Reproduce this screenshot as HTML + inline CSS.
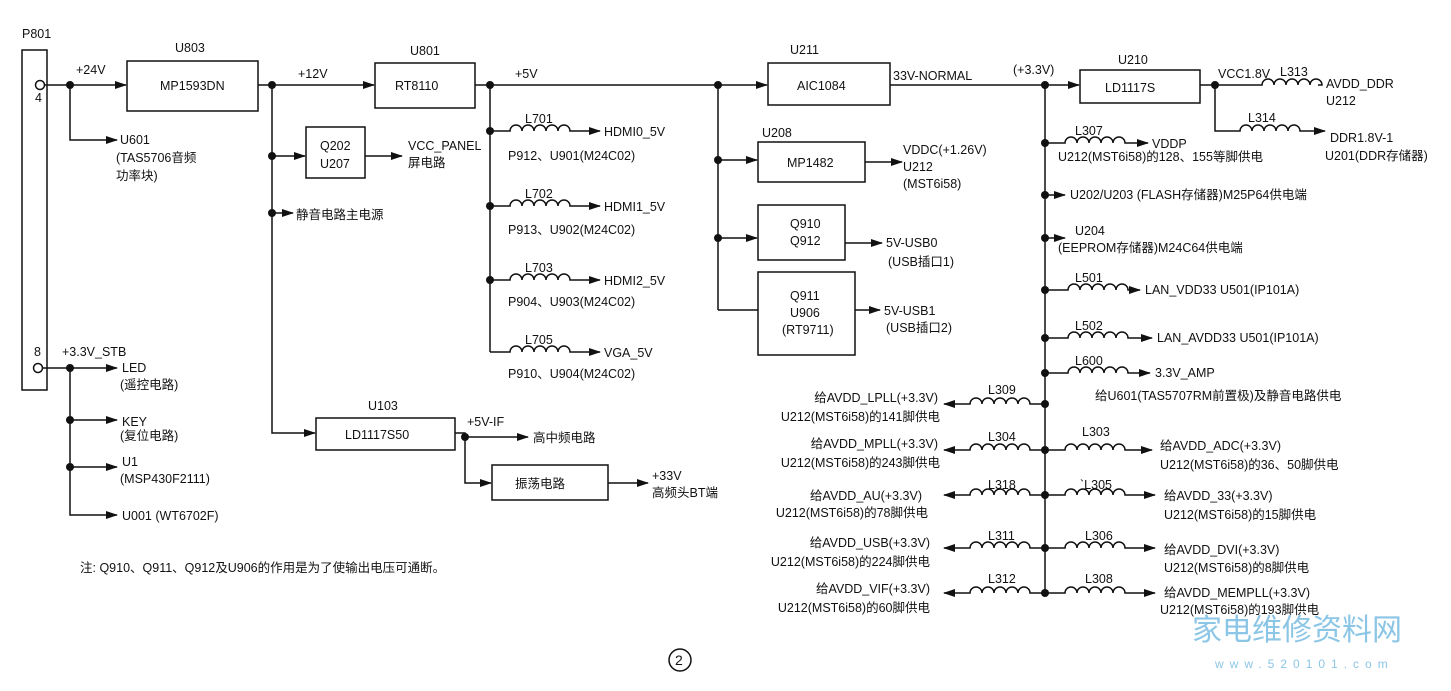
<!DOCTYPE html>
<html><head><meta charset="utf-8"><style>
html,body{margin:0;padding:0;background:#fff}
svg text{font-family:"Liberation Sans","Noto Sans CJK SC",sans-serif;font-size:12.5px;fill:#111}
</style></head><body>
<svg width="1451" height="686" viewBox="0 0 1451 686" xmlns="http://www.w3.org/2000/svg">
<defs>
<marker id="a" markerWidth="12" markerHeight="8" refX="11" refY="4" orient="auto" markerUnits="userSpaceOnUse"><path d="M0,0 L12,4 L0,8 z" fill="#111"/></marker>
</defs>
<g stroke="#111" stroke-width="1.5" fill="none">
<rect x="22" y="50" width="25" height="340"/>
<circle cx="40" cy="85" r="4.5"/><circle cx="38" cy="368" r="4.5"/>
<line x1="45" y1="85" x2="126" y2="85" marker-end="url(#a)"/>
<polyline points="70,85 70,140 117,140" marker-end="url(#a)"/>
<rect x="127" y="61" width="131" height="50"/>
<line x1="258" y1="85" x2="374" y2="85" marker-end="url(#a)"/>
<rect x="375" y="63" width="100" height="45"/>
<polyline points="272,85 272,433 315,433" marker-end="url(#a)"/>
<line x1="272" y1="156" x2="305" y2="156" marker-end="url(#a)"/>
<rect x="306" y="127" width="59" height="51"/>
<line x1="365" y1="156" x2="402" y2="156" marker-end="url(#a)"/>
<line x1="272" y1="213" x2="293" y2="213" marker-end="url(#a)"/>
<rect x="316" y="418" width="139" height="32"/>
<polyline points="455,433 465,433 465,437 528,437" marker-end="url(#a)"/>
<polyline points="465,437 465,483 491,483" marker-end="url(#a)"/>
<rect x="492" y="465" width="116" height="35"/>
<line x1="608" y1="483" x2="648" y2="483" marker-end="url(#a)"/>
<polyline points="43,368 70,368 70,515 117,515" marker-end="url(#a)"/>
<line x1="70" y1="368" x2="117" y2="368" marker-end="url(#a)"/>
<line x1="70" y1="420" x2="117" y2="420" marker-end="url(#a)"/>
<line x1="70" y1="467" x2="117" y2="467" marker-end="url(#a)"/>
<line x1="475" y1="85" x2="767" y2="85" marker-end="url(#a)"/>
<line x1="490" y1="85" x2="490" y2="352"/>
<path d="M490,131 H510 a6,6 0 0 1 12,0 a6,6 0 0 1 12,0 a6,6 0 0 1 12,0 a6,6 0 0 1 12,0 a6,6 0 0 1 12,0 H600" marker-end="url(#a)"/>
<path d="M490,206 H510 a6,6 0 0 1 12,0 a6,6 0 0 1 12,0 a6,6 0 0 1 12,0 a6,6 0 0 1 12,0 a6,6 0 0 1 12,0 H600" marker-end="url(#a)"/>
<path d="M490,280 H510 a6,6 0 0 1 12,0 a6,6 0 0 1 12,0 a6,6 0 0 1 12,0 a6,6 0 0 1 12,0 a6,6 0 0 1 12,0 H600" marker-end="url(#a)"/>
<path d="M490,352 H510 a6,6 0 0 1 12,0 a6,6 0 0 1 12,0 a6,6 0 0 1 12,0 a6,6 0 0 1 12,0 a6,6 0 0 1 12,0 H600" marker-end="url(#a)"/>
<rect x="768" y="63" width="122" height="42"/>
<line x1="718" y1="85" x2="718" y2="310"/>
<line x1="718" y1="160" x2="757" y2="160" marker-end="url(#a)"/>
<rect x="758" y="142" width="107" height="40"/>
<line x1="865" y1="162" x2="902" y2="162" marker-end="url(#a)"/>
<line x1="718" y1="238" x2="757" y2="238" marker-end="url(#a)"/>
<rect x="758" y="205" width="87" height="55"/>
<line x1="845" y1="243" x2="882" y2="243" marker-end="url(#a)"/>
<line x1="718" y1="310" x2="758" y2="310"/>
<rect x="758" y="272" width="97" height="83"/>
<line x1="855" y1="310" x2="880" y2="310" marker-end="url(#a)"/>
<line x1="890" y1="85" x2="1079" y2="85" marker-end="url(#a)"/>
<rect x="1080" y="70" width="120" height="33"/>
<path d="M1200,85 H1262 a6,6 0 0 1 12,0 a6,6 0 0 1 12,0 a6,6 0 0 1 12,0 a6,6 0 0 1 12,0 a6,6 0 0 1 12,0 H1318"/>
<path d="M1215,85 V131 H1240 a6,6 0 0 1 12,0 a6,6 0 0 1 12,0 a6,6 0 0 1 12,0 a6,6 0 0 1 12,0 a6,6 0 0 1 12,0 H1325" marker-end="url(#a)"/>
<line x1="1045" y1="85" x2="1045" y2="593"/>
<path d="M1045,143 H1065 a6,6 0 0 1 12,0 a6,6 0 0 1 12,0 a6,6 0 0 1 12,0 a6,6 0 0 1 12,0 a6,6 0 0 1 12,0 H1148" marker-end="url(#a)"/>
<line x1="1045" y1="195" x2="1065" y2="195" marker-end="url(#a)"/>
<line x1="1045" y1="238" x2="1065" y2="238" marker-end="url(#a)"/>
<path d="M1045,290 H1068 a6,6 0 0 1 12,0 a6,6 0 0 1 12,0 a6,6 0 0 1 12,0 a6,6 0 0 1 12,0 a6,6 0 0 1 12,0 H1140" marker-end="url(#a)"/>
<path d="M1045,338 H1068 a6,6 0 0 1 12,0 a6,6 0 0 1 12,0 a6,6 0 0 1 12,0 a6,6 0 0 1 12,0 a6,6 0 0 1 12,0 H1152" marker-end="url(#a)"/>
<path d="M1045,373 H1068 a6,6 0 0 1 12,0 a6,6 0 0 1 12,0 a6,6 0 0 1 12,0 a6,6 0 0 1 12,0 a6,6 0 0 1 12,0 H1150" marker-end="url(#a)"/>
<path d="M1045,404 H1030 a6,6 0 0 0 -12,0 a6,6 0 0 0 -12,0 a6,6 0 0 0 -12,0 a6,6 0 0 0 -12,0 a6,6 0 0 0 -12,0 H944" marker-end="url(#a)"/>
<path d="M1045,450 H1030 a6,6 0 0 0 -12,0 a6,6 0 0 0 -12,0 a6,6 0 0 0 -12,0 a6,6 0 0 0 -12,0 a6,6 0 0 0 -12,0 H944" marker-end="url(#a)"/>
<path d="M1045,495 H1030 a6,6 0 0 0 -12,0 a6,6 0 0 0 -12,0 a6,6 0 0 0 -12,0 a6,6 0 0 0 -12,0 a6,6 0 0 0 -12,0 H944" marker-end="url(#a)"/>
<path d="M1045,548 H1030 a6,6 0 0 0 -12,0 a6,6 0 0 0 -12,0 a6,6 0 0 0 -12,0 a6,6 0 0 0 -12,0 a6,6 0 0 0 -12,0 H944" marker-end="url(#a)"/>
<path d="M1045,593 H1030 a6,6 0 0 0 -12,0 a6,6 0 0 0 -12,0 a6,6 0 0 0 -12,0 a6,6 0 0 0 -12,0 a6,6 0 0 0 -12,0 H944" marker-end="url(#a)"/>
<path d="M1045,450 H1065 a6,6 0 0 1 12,0 a6,6 0 0 1 12,0 a6,6 0 0 1 12,0 a6,6 0 0 1 12,0 a6,6 0 0 1 12,0 H1152" marker-end="url(#a)"/>
<path d="M1045,495 H1065 a6,6 0 0 1 12,0 a6,6 0 0 1 12,0 a6,6 0 0 1 12,0 a6,6 0 0 1 12,0 a6,6 0 0 1 12,0 H1155" marker-end="url(#a)"/>
<path d="M1045,548 H1065 a6,6 0 0 1 12,0 a6,6 0 0 1 12,0 a6,6 0 0 1 12,0 a6,6 0 0 1 12,0 a6,6 0 0 1 12,0 H1155" marker-end="url(#a)"/>
<path d="M1045,593 H1065 a6,6 0 0 1 12,0 a6,6 0 0 1 12,0 a6,6 0 0 1 12,0 a6,6 0 0 1 12,0 a6,6 0 0 1 12,0 H1155" marker-end="url(#a)"/>
<circle cx="680" cy="660" r="11"/>
</g>
<g fill="#111">
<circle cx="70" cy="85" r="4"/><circle cx="272" cy="85" r="4"/><circle cx="272" cy="156" r="4"/><circle cx="272" cy="213" r="4"/>
<circle cx="70" cy="368" r="4"/><circle cx="70" cy="420" r="4"/><circle cx="70" cy="467" r="4"/><circle cx="465" cy="437" r="4"/>
<circle cx="490" cy="85" r="4"/><circle cx="490" cy="131" r="4"/><circle cx="490" cy="206" r="4"/><circle cx="490" cy="280" r="4"/>
<circle cx="718" cy="85" r="4"/><circle cx="718" cy="160" r="4"/><circle cx="718" cy="238" r="4"/>
<circle cx="1045" cy="85" r="4"/><circle cx="1215" cy="85" r="4"/><circle cx="1045" cy="143" r="4"/><circle cx="1045" cy="195" r="4"/><circle cx="1045" cy="238" r="4"/><circle cx="1045" cy="290" r="4"/><circle cx="1045" cy="338" r="4"/><circle cx="1045" cy="373" r="4"/><circle cx="1045" cy="404" r="4"/><circle cx="1045" cy="450" r="4"/><circle cx="1045" cy="495" r="4"/><circle cx="1045" cy="548" r="4"/><circle cx="1045" cy="593" r="4"/>
</g>
<g>
<text x="22" y="38">P801</text><text x="35" y="102">4</text><text x="34" y="356">8</text>
<text x="76" y="74">+24V</text><text x="120" y="144">U601</text><text x="116" y="162">(TAS5706音频</text><text x="116" y="180">功率块)</text>
<text x="175" y="52">U803</text><text x="160" y="90">MP1593DN</text>
<text x="298" y="78">+12V</text><text x="410" y="55">U801</text><text x="395" y="90">RT8110</text>
<text x="320" y="150">Q202</text><text x="320" y="168">U207</text>
<text x="408" y="150">VCC_PANEL</text><text x="408" y="167">屏电路</text>
<text x="296" y="219">静音电路主电源</text>
<text x="62" y="356">+3.3V_STB</text>
<text x="122" y="372">LED</text><text x="120" y="389">(遥控电路)</text>
<text x="122" y="426">KEY</text><text x="120" y="440">(复位电路)</text>
<text x="122" y="466">U1</text><text x="120" y="483">(MSP430F2111)</text>
<text x="122" y="520">U001 (WT6702F)</text>
<text x="368" y="410">U103</text><text x="345" y="439">LD1117S50</text>
<text x="467" y="426">+5V-IF</text><text x="533" y="442">高中频电路</text>
<text x="515" y="488">振荡电路</text>
<text x="652" y="480">+33V</text><text x="652" y="497">高频头BT端</text>
<text x="515" y="78">+5V</text>
<text x="525" y="123">L701</text><text x="604" y="136">HDMI0_5V</text><text x="508" y="160">P912、U901(M24C02)</text>
<text x="525" y="198">L702</text><text x="604" y="211">HDMI1_5V</text><text x="508" y="234">P913、U902(M24C02)</text>
<text x="525" y="272">L703</text><text x="604" y="285">HDMI2_5V</text><text x="508" y="306">P904、U903(M24C02)</text>
<text x="525" y="344">L705</text><text x="604" y="357">VGA_5V</text><text x="508" y="378">P910、U904(M24C02)</text>
<text x="790" y="54">U211</text><text x="797" y="90">AIC1084</text><text x="893" y="80">33V-NORMAL</text>
<text x="762" y="137">U208</text><text x="787" y="167">MP1482</text>
<text x="903" y="154">VDDC(+1.26V)</text><text x="903" y="171">U212</text><text x="903" y="188">(MST6i58)</text>
<text x="790" y="228">Q910</text><text x="790" y="245">Q912</text><text x="886" y="247">5V-USB0</text><text x="888" y="266">(USB插口1)</text>
<text x="790" y="300">Q911</text><text x="790" y="317">U906</text><text x="782" y="334">(RT9711)</text>
<text x="884" y="315">5V-USB1</text><text x="886" y="332">(USB插口2)</text>
<text x="1013" y="74">(+3.3V)</text><text x="1118" y="64">U210</text><text x="1105" y="92">LD1117S</text>
<text x="1218" y="78">VCC1.8V</text><text x="1280" y="76">L313</text><text x="1326" y="88">AVDD_DDR</text><text x="1326" y="105">U212</text>
<text x="1248" y="122">L314</text><text x="1330" y="142">DDR1.8V-1</text><text x="1325" y="160">U201(DDR存储器)</text>
<text x="1075" y="135">L307</text><text x="1152" y="148">VDDP</text><text x="1058" y="161">U212(MST6i58)的128、155等脚供电</text>
<text x="1070" y="199">U202/U203 (FLASH存储器)M25P64供电端</text>
<text x="1075" y="235">U204</text><text x="1058" y="252">(EEPROM存储器)M24C64供电端</text>
<text x="1075" y="282">L501</text><text x="1145" y="294">LAN_VDD33  U501(IP101A)</text>
<text x="1075" y="330">L502</text><text x="1157" y="342">LAN_AVDD33  U501(IP101A)</text>
<text x="1075" y="365">L600</text><text x="1155" y="377">3.3V_AMP</text>
<text x="1095" y="400">给U601(TAS5707RM前置极)及静音电路供电</text>
<text x="988" y="394">L309</text><text x="988" y="441">L304</text><text x="988" y="489">L318</text><text x="988" y="540">L311</text><text x="988" y="583">L312</text>
<text x="1082" y="436">L303</text><text x="1080" y="489">`L305</text><text x="1085" y="540">L306</text><text x="1085" y="583">L308</text>
<g text-anchor="end">
<text x="938" y="402">给AVDD_LPLL(+3.3V)</text><text x="940" y="421">U212(MST6i58)的141脚供电</text>
<text x="938" y="448">给AVDD_MPLL(+3.3V)</text><text x="940" y="467">U212(MST6i58)的243脚供电</text>
<text x="922" y="500">给AVDD_AU(+3.3V)</text><text x="928" y="517">U212(MST6i58)的78脚供电</text>
<text x="930" y="547">给AVDD_USB(+3.3V)</text><text x="930" y="566">U212(MST6i58)的224脚供电</text>
<text x="930" y="593">给AVDD_VIF(+3.3V)</text><text x="930" y="612">U212(MST6i58)的60脚供电</text>
</g>
<text x="1160" y="450">给AVDD_ADC(+3.3V)</text><text x="1160" y="469">U212(MST6i58)的36、50脚供电</text>
<text x="1164" y="500">给AVDD_33(+3.3V)</text><text x="1164" y="519">U212(MST6i58)的15脚供电</text>
<text x="1164" y="554">给AVDD_DVI(+3.3V)</text><text x="1164" y="572">U212(MST6i58)的8脚供电</text>
<text x="1164" y="597">给AVDD_MEMPLL(+3.3V)</text><text x="1160" y="614">U212(MST6i58)的193脚供电</text>
<text x="80" y="572">注: Q910、Q911、Q912及U906的作用是为了使输出电压可通断。</text>
<text x="675" y="665" style="font-size:14px">2</text>
<text x="1192" y="640" style="font-size:30px;fill:#8cc6e6">家电维修资料网</text>
<text x="1215" y="668" style="font-size:12px;fill:#8cc6e6;letter-spacing:6px">www.520101.com</text>
</g>
</svg>
</body></html>
